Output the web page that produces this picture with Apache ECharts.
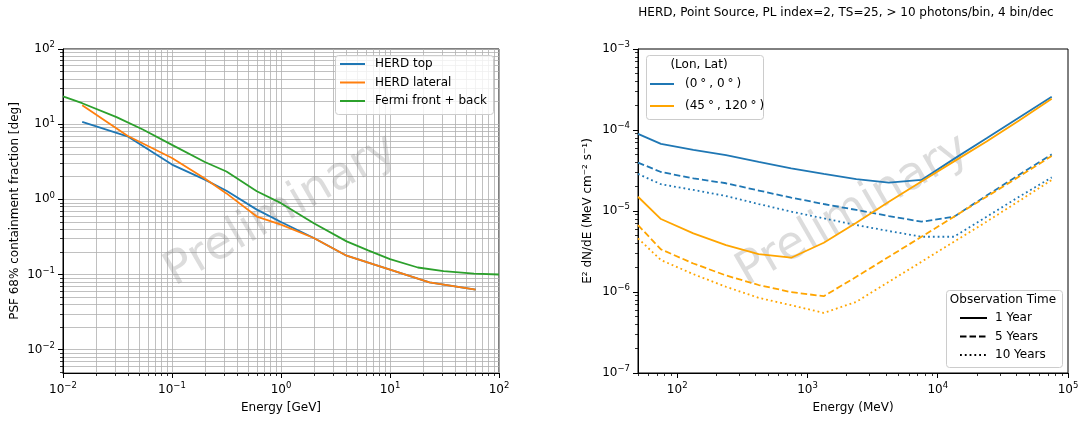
<!DOCTYPE html>
<html>
<head>
<meta charset="utf-8">
<script src="https://cdn.jsdelivr.net/npm/echarts@6/dist/echarts.min.js"></script>
<style>
  html, body { margin: 0; padding: 0; background: #fff; }
  #chart { width: 1089px; height: 421px; }
</style>
</head>
<body>
<div id="chart"></div>
<script>
// left panel: PSF 68% containment [deg] vs energy [GeV]
var herdTopE = [0.015, 0.039, 0.1, 0.2, 0.316, 0.6, 1.0, 2.0, 4.0, 10, 23, 61];
var herdTop = [10.7, 6.9, 2.9, 1.83, 1.3, 0.73, 0.5, 0.306, 0.178, 0.116, 0.0787, 0.0628];
var herdLatE = [0.015, 0.039, 0.1, 0.2, 0.316, 0.6, 1.0, 2.0, 4.0, 10, 23, 61];
var herdLat = [17.8, 7.0, 3.55, 1.9, 1.2, 0.59, 0.46, 0.306, 0.178, 0.116, 0.0787, 0.0628];
var fermiE = [0.01, 0.015, 0.031, 0.054, 0.1, 0.2, 0.316, 0.6, 1, 2, 4, 6.3, 10, 18, 31, 59, 100];
var fermi = [23.4, 19, 12.4, 8.5, 5.3, 3.14, 2.35, 1.28, 0.89, 0.48, 0.276, 0.21, 0.16, 0.124, 0.111, 0.1026, 0.1];

// right panel: sensitivity E^2 dN/dE vs energy [MeV]
var sensE = [50, 75, 133, 237, 422, 750, 1334, 2371, 4217, 7499, 13335, 23714, 42170, 74989];
var gc1yr = [8.97e-5, 6.75e-5, 5.69e-5, 4.89e-5, 4.04e-5, 3.37e-5, 2.87e-5, 2.47e-5, 2.24e-5, 2.42e-5, 4.4e-5, 7.9e-5, 1.43e-4, 2.58e-4];
var gc5yr = [3.96e-5, 3.03e-5, 2.53e-5, 2.2e-5, 1.79e-5, 1.46e-5, 1.22e-5, 1.03e-5, 8.67e-6, 7.38e-6, 8.5e-6, 1.55e-5, 2.8e-5, 5.0e-5];
var gc10yr = [2.87e-5, 2.14e-5, 1.82e-5, 1.53e-5, 1.22e-5, 9.82e-6, 8.11e-6, 6.71e-6, 5.66e-6, 4.81e-6, 4.81e-6, 8.5e-6, 1.5e-5, 2.6e-5];
var hl1yr = [1.5e-5, 7.96e-6, 5.3e-6, 3.8e-6, 2.94e-6, 2.65e-6, 4.06e-6, 7.18e-6, 1.3e-5, 2.31e-5, 4.1e-5, 7.21e-5, 1.31e-4, 2.43e-4];
var hl5yr = [6.71e-6, 3.36e-6, 2.25e-6, 1.6e-6, 1.22e-6, 9.96e-7, 8.88e-7, 1.54e-6, 2.72e-6, 4.81e-6, 8.51e-6, 1.5e-5, 2.66e-5, 4.79e-5];
var hl10yr = [4.59e-6, 2.48e-6, 1.66e-6, 1.16e-6, 8.47e-7, 6.87e-7, 5.52e-7, 7.55e-7, 1.34e-6, 2.36e-6, 4.18e-6, 7.38e-6, 1.33e-5, 2.42e-5];

var FONT = 'DejaVu Sans';
var GRIDC = '#b0b0b0';

// axes are linear in log10 space
function pairs(xs, ys) {
  return xs.map(function (x, i) { return [Math.log10(x), Math.log10(ys[i])]; });
}
function majors(lo, hi) {
  var out = [];
  for (var n = Math.ceil(lo); n <= hi; n++) out.push(n);
  return out;
}
function minors(lo, hi) {
  var out = [];
  for (var n = Math.floor(lo); n < Math.ceil(hi); n++) {
    for (var k = 2; k <= 9; k++) {
      var v = n + Math.log10(k);
      if (v >= lo && v <= hi) out.push(v);
    }
  }
  return out;
}
function powLabel(v) {
  var n = Math.round(v);
  return '{b|10}{s|' + (n < 0 ? '\u2212' + (-n) : n) + '}';
}
var powRich = {
  b: { fontFamily: FONT, fontSize: 12, color: '#000' },
  s: { fontFamily: FONT, fontSize: 8.5, color: '#000', padding: [0, 0, 8, 0] }
};

function mainAxis(grid, lo, hi, pos, name, gap, grid_on) {
  return {
    gridIndex: grid, type: 'value', min: lo, max: hi, position: pos,
    axisLine: { show: true, onZero: false, lineStyle: { color: '#000', width: 1 } },
    axisTick: { show: true, length: 5, customValues: majors(lo, hi), lineStyle: { color: '#000', width: 1 } },
    axisLabel: { customValues: majors(lo, hi), formatter: powLabel, margin: 8, rich: powRich, fontFamily: FONT, fontSize: 12, color: '#000' },
    splitLine: { show: grid_on, lineStyle: { color: GRIDC, width: 0.8 } },
    name: name, nameLocation: 'middle', nameGap: gap,
    nameRotate: pos === 'left' ? 90 : 0,
    nameTextStyle: { fontFamily: FONT, fontSize: 12, color: '#000' }
  };
}
function minorAxis(grid, lo, hi, pos, grid_on) {
  return {
    gridIndex: grid, type: 'value', min: lo, max: hi, position: pos,
    axisLine: { show: false, onZero: false },
    axisTick: { show: true, length: 3, customValues: minors(lo, hi), lineStyle: { color: '#000', width: 0.8 } },
    axisLabel: { show: false },
    splitLine: { show: grid_on, lineStyle: { color: GRIDC, width: 0.8 } }
  };
}

function line(name, xs, ys, color, type, ax) {
  return {
    name: name, type: 'line', xAxisIndex: ax, yAxisIndex: ax,
    data: pairs(xs, ys), symbol: 'none', clip: true, silent: true,
    lineStyle: { color: color, width: 1.8, type: type },
    itemStyle: { color: color }
  };
}
function legendStyle(padLeft) {
  return { fontFamily: FONT, fontSize: 12, color: '#000', lineHeight: 14, padding: [0, 0, 0, padLeft] };
}
function box(x, y, w, h) {
  return {
    type: 'rect', z: 3, silent: true,
    shape: { x: x + 0.5, y: y + 0.5, width: w, height: h, r: 3 },
    style: { fill: 'rgba(255,255,255,0.8)', stroke: '#cccccc', lineWidth: 1 }
  };
}
function txt(x, y, s, size, fill, rot, z) {
  return {
    type: 'text', x: x, y: y, rotation: rot || 0, z: z, silent: true,
    style: { text: s, fontFamily: FONT, fontSize: size, fill: fill, align: 'center', verticalAlign: 'middle' }
  };
}

var DASH = [6.5, 3];
var DOT = [1.8, 3];
var BLUE = '#1f77b4';
var ORANGE = '#ff7f0e';
var GREEN = '#2ca02c';
var GOLD = '#ffa500';
var GC = '(0°, 0°)';
var HL = '(45°, 120°)';
// legend shows only the line, no marker
var NOMARK = { opacity: 0, borderWidth: 0 };

var chart = echarts.init(document.getElementById('chart'), null, { renderer: 'canvas' });
var option = {
  animation: false,
  backgroundColor: '#fff',
  grid: [
    { left: 63, top: 49, width: 436, height: 324, show: true, borderColor: '#000', borderWidth: 1, backgroundColor: 'transparent', containLabel: false, outerBoundsMode: 'none' },
    { left: 638, top: 49, width: 430, height: 324, show: true, borderColor: '#000', borderWidth: 1, backgroundColor: 'transparent', containLabel: false, outerBoundsMode: 'none' }
  ],
  xAxis: [
    mainAxis(0, -2, 2, 'bottom', 'Energy [GeV]', 29, true),
    minorAxis(0, -2, 2, 'bottom', true),
    mainAxis(1, Math.log10(50), 5, 'bottom', 'Energy (MeV)', 29, false),
    minorAxis(1, Math.log10(50), 5, 'bottom', false)
  ],
  yAxis: [
    mainAxis(0, -2.31, 2, 'left', 'PSF 68% containment fraction [deg]', 42, true),
    minorAxis(0, -2.31, 2, 'left', true),
    mainAxis(1, -7, -3, 'left', 'E² dN/dE (MeV cm⁻² s⁻¹)', 44, false),
    minorAxis(1, -7, -3, 'left', false)
  ],
  legend: [
    {
      data: ['HERD top', 'HERD lateral', 'Fermi front + back'],
      orient: 'vertical', left: 339, top: 57, padding: 0, itemWidth: 25, itemHeight: 14, itemGap: 4.5,
      selectedMode: false, itemStyle: NOMARK, textStyle: legendStyle(5)
    },
    {
      data: [GC, HL],
      orient: 'vertical', left: 649, top: 77, padding: 0, itemWidth: 24, itemHeight: 14, itemGap: 8,
      selectedMode: false, itemStyle: NOMARK, textStyle: Object.assign(legendStyle(6), {
        rich: { d: { fontFamily: FONT, fontSize: 12, color: '#000', padding: [0, 3, 0, 3] } }
      }),
      formatter: function (n) { return n.replace(/°/g, '{d|°}'); }
    },
    {
      data: ['1 Year', '5 Years', '10 Years'],
      orient: 'vertical', left: 959, top: 311, padding: 0, itemWidth: 27, itemHeight: 14, itemGap: 4.5,
      selectedMode: false, itemStyle: NOMARK, textStyle: legendStyle(3)
    }
  ],
  graphic: [
    txt(281, 211, 'Preliminary', 46, 'rgba(128,128,128,0.28)', Math.PI / 6, 1),
    txt(853, 211, 'Preliminary', 46, 'rgba(128,128,128,0.28)', Math.PI / 6, 1),
    txt(846, 12.5, 'HERD, Point Source, PL index=2, TS=25, > 10 photons/bin, 4 bin/dec', 12, '#000', 0, 5),
    box(335, 55, 158, 59),
    box(646, 55, 117, 64),
    txt(699, 65, '(Lon, Lat)', 12, '#000', 0, 5),
    box(946, 290, 116, 77),
    txt(1003, 300, 'Observation Time', 12, '#000', 0, 5)
  ],
  series: [
    line('HERD top', herdTopE, herdTop, BLUE, 'solid', 0),
    line('HERD lateral', herdLatE, herdLat, ORANGE, 'solid', 0),
    line('Fermi front + back', fermiE, fermi, GREEN, 'solid', 0),

    line(GC, sensE, gc1yr, BLUE, 'solid', 2),
    line(GC, sensE, gc5yr, BLUE, DASH, 2),
    line(GC, sensE, gc10yr, BLUE, DOT, 2),
    line(HL, sensE, hl1yr, GOLD, 'solid', 2),
    line(HL, sensE, hl5yr, GOLD, DASH, 2),
    line(HL, sensE, hl10yr, GOLD, DOT, 2),

    // legend-only entries for the observation time styles
    line('1 Year', [], [], '#000', 'solid', 2),
    line('5 Years', [], [], '#000', DASH, 2),
    line('10 Years', [], [], '#000', DOT, 2)
  ]
};
chart.setOption(option);
</script>
</body>
</html>
